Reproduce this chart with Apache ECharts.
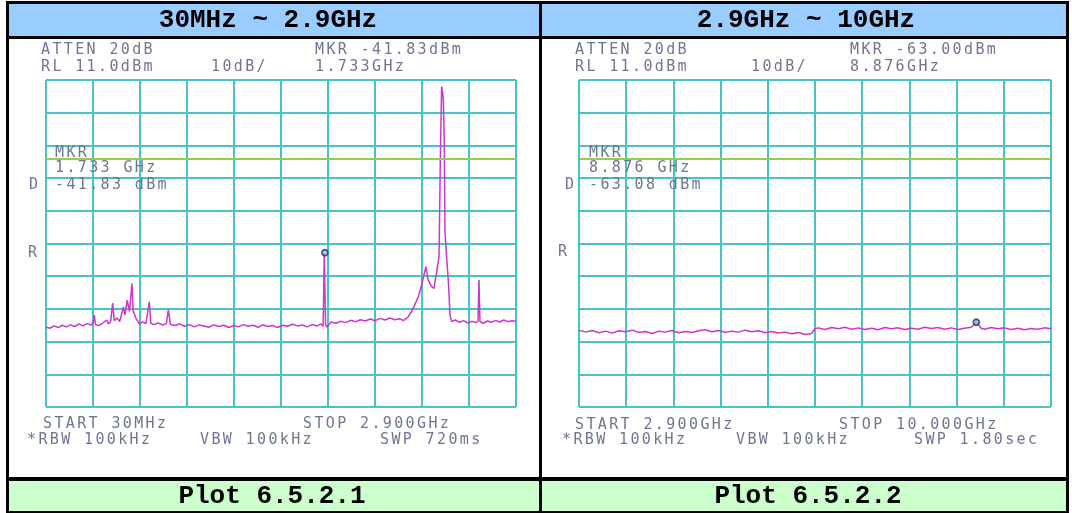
<!DOCTYPE html>
<html>
<head>
<meta charset="utf-8">
<title>Plot 6.5.2</title>
<script src="https://cdn.jsdelivr.net/npm/echarts@6/dist/echarts.min.js"></script>
<style>
  html, body { margin: 0; padding: 0; background: #fff; }
  #charts { width: 1072px; height: 513px; }
</style>
</head>
<body>
<div id="charts"></div>
<script>
  // 30MHz ~ 2.9GHz trace, frequency in MHz / level in dBm
  const freqLow = [30, 55, 80, 105, 130, 155, 180, 205, 230, 255, 280, 305, 318, 325, 332, 350, 375, 400, 412, 425,
    437, 447, 465, 480, 492, 502, 512, 526, 540, 548, 555, 562, 569, 580, 600, 620, 640, 652, 661, 670,
    690, 715, 740, 765, 777, 790, 815, 845, 875, 905, 935, 965, 995, 1025, 1055, 1085, 1115, 1145, 1175, 1205,
    1235, 1265, 1295, 1325, 1355, 1385, 1415, 1445, 1475, 1505, 1535, 1565, 1595, 1625, 1655, 1685, 1710, 1722, 1726, 1729,
    1733, 1737, 1745, 1770, 1800, 1830, 1860, 1890, 1920, 1950, 1980, 2010, 2040, 2070, 2100, 2130, 2160, 2190, 2212, 2242,
    2273, 2303, 2324, 2338, 2350, 2364, 2385, 2399, 2416, 2430, 2438, 2446, 2456, 2462, 2466, 2477, 2487, 2497, 2507, 2530,
    2555, 2580, 2605, 2630, 2655, 2668, 2674, 2680, 2700, 2725, 2750, 2775, 2800, 2825, 2850, 2875, 2900]
  const levelLow = [-64.6, -64.9, -64.2, -64.7, -64.0, -64.5, -63.9, -64.4, -63.6, -64.2, -63.5, -63.9, -63.2, -60.9, -63.8, -64.1, -63.4, -62.4, -63.6, -62.8,
    -57.2, -62.6, -61.8, -62.9, -60.5, -58.4, -60.8, -56.3, -59.8, -60.4, -51.2, -59.5, -59.3, -62.0, -63.6, -63.0, -63.5, -63.2, -56.8, -63.4,
    -63.8, -63.3, -63.9, -63.5, -59.3, -63.7, -64.1, -63.6, -64.3, -63.8, -64.5, -63.9, -64.2, -64.6, -63.9, -64.4, -64.0, -64.7, -64.1, -64.5,
    -63.8, -64.3, -64.0, -64.6, -63.9, -64.4, -64.1, -64.7, -64.0, -64.3, -63.7, -64.2, -63.9, -64.5, -63.8, -64.2, -63.6, -64.3, -53.5, -41.83,
    -41.83, -63.8, -64.6, -63.0, -63.4, -62.8, -63.2, -62.5, -62.9, -62.3, -62.7, -62.1, -62.6, -61.9, -62.4, -61.8, -62.3, -62.0, -62.6, -61.4,
    -58.8, -55.3, -51.7, -48.6, -46.1, -50.2, -52.2, -52.7, -47.6, -43.0, -12.9, 9.0, 5.4, -7.9, -35.4, -43.5, -50.7, -60.9, -62.9, -62.4,
    -63.1, -62.6, -63.3, -62.8, -63.2, -62.7, -50.2, -62.9, -63.4, -62.7, -63.1, -62.5, -63.0, -62.4, -62.9, -62.6, -62.8]

  // 2.9GHz ~ 10GHz trace
  const freqHigh = [2900, 3000, 3100, 3200, 3300, 3400, 3500, 3600, 3700, 3800, 3900, 4000, 4100, 4200, 4300, 4400, 4500, 4600, 4700, 4800,
    4900, 5000, 5100, 5200, 5300, 5400, 5500, 5600, 5700, 5800, 5900, 6000, 6100, 6200, 6300, 6400, 6450, 6500, 6600, 6700,
    6800, 6900, 7000, 7100, 7200, 7300, 7400, 7500, 7600, 7700, 7800, 7900, 8000, 8100, 8200, 8300, 8400, 8500, 8600, 8700,
    8800, 8876, 8950, 9000, 9100, 9200, 9300, 9400, 9500, 9600, 9700, 9800, 9900, 10000]
  const levelHigh = [-65.5, -66.1, -65.6, -66.3, -65.8, -66.4, -65.7, -66.0, -65.5, -66.2, -65.9, -66.5, -65.8, -66.1, -65.6, -66.3, -65.9, -66.2, -65.7, -65.4,
    -66.0, -65.6, -66.2, -65.8, -66.1, -65.5, -66.0, -65.7, -66.3, -65.9, -66.4, -66.1, -66.6, -66.2, -66.8, -66.5, -65.0, -64.8, -65.3, -64.7,
    -65.1, -64.6, -65.2, -64.8, -65.3, -64.9, -65.4, -64.7, -65.1, -64.8, -65.3, -64.9, -65.2, -64.6, -65.0, -64.7, -65.2, -64.8, -65.3, -64.9,
    -64.6, -63.08, -64.9, -65.2, -64.7, -65.1, -64.8, -65.3, -64.9, -65.4, -65.0, -65.2, -64.8, -65.1]

  const markerLow = [1733, -41.83]
  const markerHigh = [8876, -63.08]
  const limitLine = -13 // 绿色限值线 dBm
  const refLevel = 11
  const bottomLevel = -89

  const headers = ['30MHz ~ 2.9GHz', '2.9GHz ~ 10GHz']
  const footers = ['Plot 6.5.2.1', 'Plot 6.5.2.2']

  // 屏幕上的文字 [text, x, y]
  const screenTextLow = [
    ['ATTEN 20dB', 41, 50], ['RL 11.0dBm', 41, 67], ['10dB/', 211, 67],
    ['MKR -41.83dBm', 315, 50], ['1.733GHz', 315, 67],
    ['MKR', 55, 153], ['1.733 GHz', 55, 168], ['D', 29, 185], ['-41.83 dBm', 55, 185], ['R', 28, 253],
    ['START 30MHz', 43, 424], ['STOP 2.900GHz', 303, 424],
    ['*RBW 100kHz', 27, 440], ['VBW 100kHz', 200, 440], ['SWP 720ms', 380, 440]
  ]
  const screenTextHigh = [
    ['ATTEN 20dB', 575, 50], ['RL 11.0dBm', 575, 67], ['10dB/', 751, 67],
    ['MKR -63.00dBm', 850, 50], ['8.876GHz', 850, 67],
    ['MKR', 589, 153], ['8.876 GHz', 589, 168], ['D', 565, 185], ['-63.08 dBm', 589, 185], ['R', 558, 252],
    ['START 2.900GHz', 575, 425], ['STOP 10.000GHz', 839, 425],
    ['*RBW 100kHz', 562, 440], ['VBW 100kHz', 736, 440], ['SWP 1.80sec', 914, 440]
  ]

  const GRID_COLOR = '#45c3c7'
  const TRACE_COLOR = '#cc36cc'
  const LIMIT_COLOR = '#93cf4f'
  const TEXT_COLOR = '#6e7691'
  const CW = 11.4

  // 每个字符单独放，模拟仪器屏幕的等宽字
  function dispText (str, x, y) {
    return str.split('').map((ch, i) => ({
      type: 'text',
      x: x + i * CW,
      y: y,
      z: 10,
      silent: true,
      style: { text: ch, fill: TEXT_COLOR, font: '15px "DejaVu Sans Mono"', verticalAlign: 'middle' }
    }))
  }

  function rect (x, y, width, height, fill) {
    return { type: 'rect', silent: true, z: 5, shape: { x, y, width, height }, style: { fill } }
  }

  function cellText (text, x, y) {
    return {
      type: 'text', x, y, z: 10, silent: true,
      style: { text, fill: '#000', font: 'bold 26px "Liberation Mono"', align: 'center', verticalAlign: 'middle' }
    }
  }

  function dataAxis (gridIndex, min, max) {
    return { gridIndex, type: 'value', min, max, show: false }
  }

  // 只用来画 10x10 格子
  function divAxis (gridIndex) {
    return {
      gridIndex,
      type: 'value',
      min: 0,
      max: 10,
      interval: 1,
      axisLine: { show: false },
      axisTick: { show: false },
      axisLabel: { show: false },
      splitLine: { show: true, lineStyle: { color: GRID_COLOR, width: 2 } }
    }
  }

  function traceSeries (index, freqs, levels) {
    return {
      type: 'line',
      xAxisIndex: index * 2,
      yAxisIndex: index * 2,
      data: freqs.map((f, i) => [f, levels[i]]),
      showSymbol: false,
      lineStyle: { color: TRACE_COLOR, width: 1.5 },
      z: 3,
      markLine: {
        silent: true,
        symbol: 'none',
        label: { show: false },
        lineStyle: { color: LIMIT_COLOR, width: 2, type: 'solid' },
        data: [{ yAxis: limitLine }]
      }
    }
  }

  function markerSeries (index, point) {
    return {
      type: 'scatter',
      xAxisIndex: index * 2,
      yAxisIndex: index * 2,
      data: [point],
      symbol: 'circle',
      symbolSize: 6,
      z: 4,
      itemStyle: { color: '#b8bce0', borderColor: '#27346a', borderWidth: 1.8 }
    }
  }

  const graphics = [
    // 表头 / 表尾底色
    rect(9, 4, 1057, 32, '#99ccff'),
    rect(9, 481, 1057, 30, '#ccffcc'),
    // 黑色边框
    rect(6, 1, 1063, 3, '#000'),
    rect(6, 1, 3, 512, '#000'),
    rect(1066, 1, 3, 512, '#000'),
    rect(539, 1, 3, 512, '#000'),
    rect(6, 36, 1063, 3, '#000'),
    rect(6, 477, 1063, 4, '#000'),
    rect(6, 511, 1063, 2, '#000'),
    cellText(headers[0], 268, 20),
    cellText(headers[1], 806, 20),
    cellText(footers[0], 272, 496),
    cellText(footers[1], 808, 496)
  ]
  screenTextLow.concat(screenTextHigh).forEach(t => {
    graphics.push(...dispText(t[0], t[1], t[2]))
  })

  const option = {
    animation: false,
    backgroundColor: '#fff',
    grid: [
      { left: 46, top: 80, width: 470, height: 327 },
      { left: 579, top: 80, width: 472, height: 327 }
    ],
    xAxis: [
      dataAxis(0, freqLow[0], freqLow[freqLow.length - 1]),
      divAxis(0),
      dataAxis(1, freqHigh[0], freqHigh[freqHigh.length - 1]),
      divAxis(1)
    ],
    yAxis: [
      dataAxis(0, bottomLevel, refLevel),
      divAxis(0),
      dataAxis(1, bottomLevel, refLevel),
      divAxis(1)
    ],
    series: [
      traceSeries(0, freqLow, levelLow),
      markerSeries(0, markerLow),
      traceSeries(1, freqHigh, levelHigh),
      markerSeries(1, markerHigh)
    ],
    graphic: graphics
  }

  const charts = echarts.init(document.getElementById('charts'))
  charts.setOption(option)
</script>
</body>
</html>
